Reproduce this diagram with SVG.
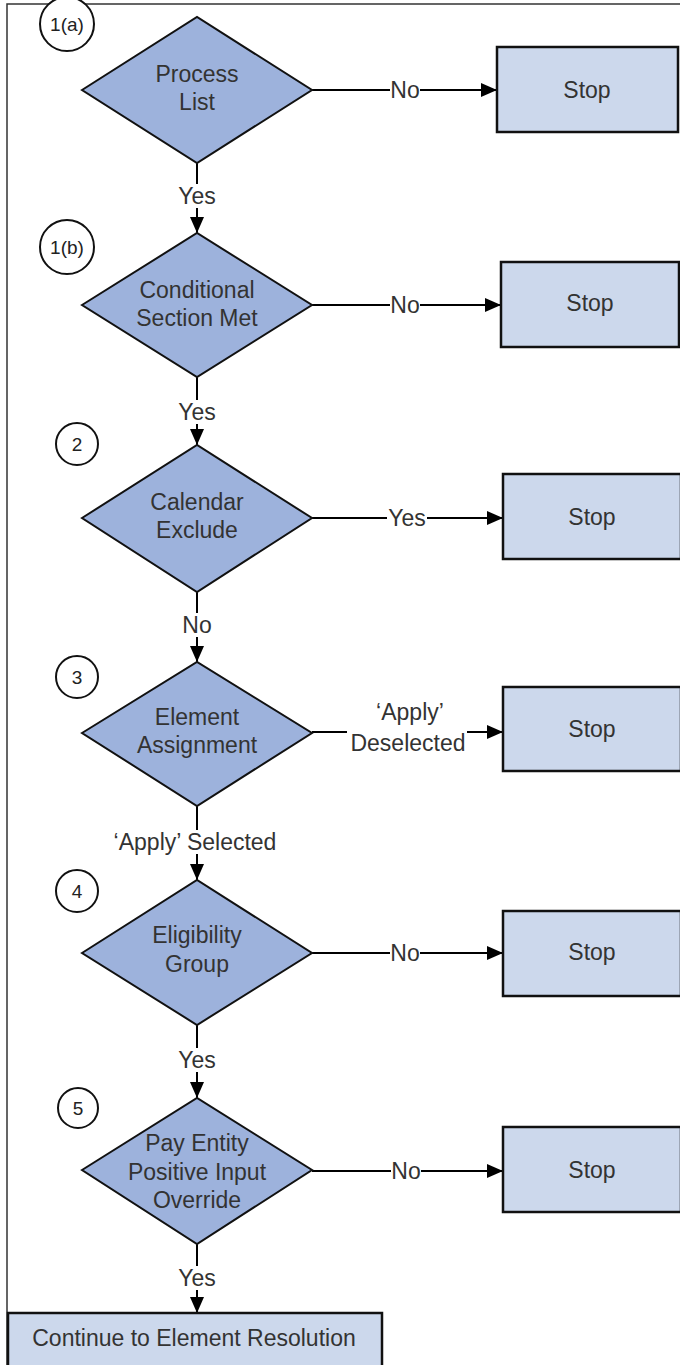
<svg xmlns="http://www.w3.org/2000/svg" width="680" height="1365" viewBox="0 0 680 1365">
<defs>
<marker id="arr" viewBox="0 0 16 14" refX="16" refY="7" markerWidth="16" markerHeight="14" markerUnits="userSpaceOnUse" orient="auto">
<path d="M0,0 L16,7 L0,14 z" fill="#000"/>
</marker>
<style>
text{font-family:"Liberation Sans",Arial,sans-serif;fill:#333;text-anchor:middle}
.t{font-size:23px}
.n{font-size:19px;fill:#222}
.dia{fill:#9db2dc;stroke:#111;stroke-width:2}
.stop{fill:#ccd8ec;stroke:#111;stroke-width:2.5}
.num{fill:#fff;stroke:#111;stroke-width:2}
.c{stroke:#000;stroke-width:2;fill:none}
.ca{stroke:#000;stroke-width:2;fill:none;marker-end:url(#arr)}
.frame{stroke:#333;stroke-width:1.5;fill:none}
</style>
</defs>
<rect width="680" height="1365" fill="#fff"/>
<path class="frame" d="M680,4 L7,4 L7,1365"/>

<g id="connectors">
<line class="c" x1="197" y1="163" x2="197" y2="184"/><line class="ca" x1="197" y1="208" x2="197" y2="233"/>
<text class="t" x="197" y="204">Yes</text>
<line class="c" x1="197" y1="377" x2="197" y2="400"/><line class="ca" x1="197" y1="424" x2="197" y2="445"/>
<text class="t" x="197" y="420">Yes</text>
<line class="c" x1="197" y1="592" x2="197" y2="613"/><line class="ca" x1="197" y1="637" x2="197" y2="662"/>
<text class="t" x="197" y="633">No</text>
<line class="c" x1="197" y1="806" x2="197" y2="830"/><line class="ca" x1="197" y1="854" x2="197" y2="880"/>
<text class="t" x="195" y="850">‘Apply’ Selected</text>
<line class="c" x1="197" y1="1025" x2="197" y2="1048"/><line class="ca" x1="197" y1="1072" x2="197" y2="1098"/>
<text class="t" x="197" y="1068">Yes</text>
<line class="c" x1="197" y1="1244" x2="197" y2="1266"/><line class="ca" x1="197" y1="1290" x2="197" y2="1313"/>
<text class="t" x="197" y="1286">Yes</text>

<line class="c" x1="312" y1="90" x2="390" y2="90"/><line class="ca" x1="420" y1="90" x2="497" y2="90"/>
<text class="t" x="405" y="98">No</text>
<line class="c" x1="312" y1="305" x2="390" y2="305"/><line class="ca" x1="420" y1="305" x2="501" y2="305"/>
<text class="t" x="405" y="313">No</text>
<line class="c" x1="312" y1="518" x2="387" y2="518"/><line class="ca" x1="427" y1="518" x2="503" y2="518"/>
<text class="t" x="407" y="526">Yes</text>
<line class="c" x1="312" y1="732" x2="347" y2="732"/><line class="ca" x1="467" y1="732" x2="503" y2="732"/>
<text class="t" x="410" y="720">‘Apply’</text>
<text class="t" x="408" y="751">Deselected</text>
<line class="c" x1="312" y1="953" x2="390" y2="953"/><line class="ca" x1="420" y1="953" x2="503" y2="953"/>
<text class="t" x="405" y="961">No</text>
<line class="c" x1="312" y1="1171" x2="391" y2="1171"/><line class="ca" x1="421" y1="1171" x2="503" y2="1171"/>
<text class="t" x="406" y="1179">No</text>
</g>

<g id="n1a"><circle class="num" cx="67" cy="24" r="27"/><text class="n" x="67" y="31">1(a)</text></g>
<g id="d1"><polygon class="dia" points="82,90 197,17 312,90 197,163"/><text class="t" x="197" y="82">Process</text><text class="t" x="197" y="110">List</text></g>
<g id="s1"><rect class="stop" x="497" y="47" width="181" height="85"/><text class="t" x="587" y="98">Stop</text></g>

<g id="n1b"><circle class="num" cx="67" cy="247" r="27"/><text class="n" x="67" y="254">1(b)</text></g>
<g id="d2"><polygon class="dia" points="82,305 197,233 312,305 197,377"/><text class="t" x="197" y="298">Conditional</text><text class="t" x="197" y="326">Section Met</text></g>
<g id="s2"><rect class="stop" x="501" y="262" width="178" height="85"/><text class="t" x="590" y="311">Stop</text></g>

<g id="n2"><circle class="num" cx="77" cy="444" r="21"/><text class="n" x="77" y="451">2</text></g>
<g id="d3"><polygon class="dia" points="82,518 197,445 312,518 197,592"/><text class="t" x="197" y="510">Calendar</text><text class="t" x="197" y="538">Exclude</text></g>
<g id="s3"><rect class="stop" x="503" y="474" width="178" height="85"/><text class="t" x="592" y="525">Stop</text></g>

<g id="n3"><circle class="num" cx="77" cy="677" r="21"/><text class="n" x="77" y="684">3</text></g>
<g id="d4"><polygon class="dia" points="82,733 197,662 312,733 197,806"/><text class="t" x="197" y="725">Element</text><text class="t" x="197" y="753">Assignment</text></g>
<g id="s4"><rect class="stop" x="503" y="687" width="178" height="84"/><text class="t" x="592" y="737">Stop</text></g>

<g id="n4"><circle class="num" cx="77" cy="891" r="21"/><text class="n" x="77" y="898">4</text></g>
<g id="d5"><polygon class="dia" points="82,953 197,880 312,953 197,1025"/><text class="t" x="197" y="943">Eligibility</text><text class="t" x="197" y="972">Group</text></g>
<g id="s5"><rect class="stop" x="503" y="911" width="178" height="85"/><text class="t" x="592" y="960">Stop</text></g>

<g id="n5"><circle class="num" cx="78" cy="1108" r="20"/><text class="n" x="78" y="1115">5</text></g>
<g id="d6"><polygon class="dia" points="82,1170 197,1098 312,1170 197,1244"/><text class="t" x="197" y="1151">Pay Entity</text><text class="t" x="197" y="1180">Positive Input</text><text class="t" x="197" y="1208">Override</text></g>
<g id="s6"><rect class="stop" x="503" y="1127" width="178" height="85"/><text class="t" x="592" y="1178">Stop</text></g>

<g id="end"><rect class="stop" x="8" y="1313" width="374" height="70"/><text class="t" x="194" y="1346">Continue to Element Resolution</text></g>
</svg>
